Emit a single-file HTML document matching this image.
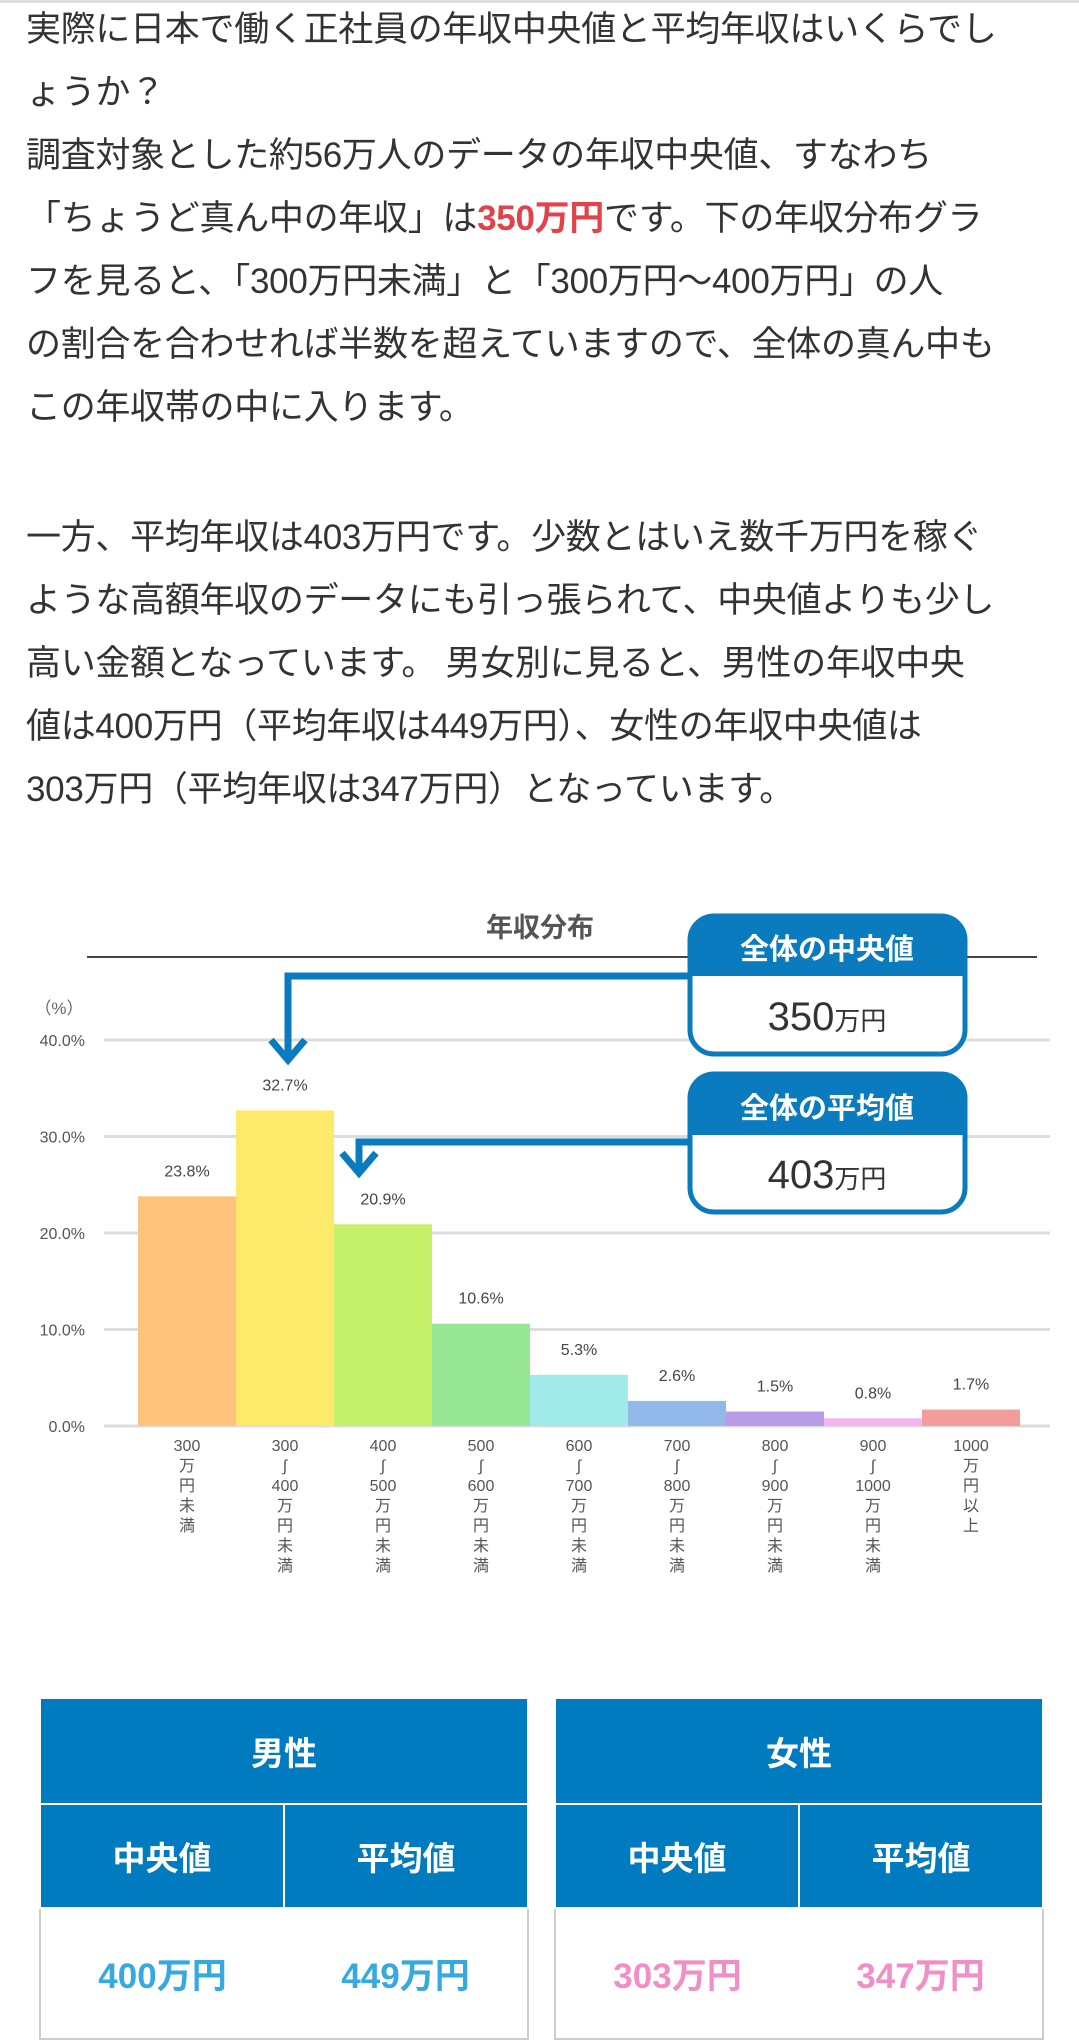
<!DOCTYPE html>
<html><head><meta charset="utf-8">
<style>
body{margin:0;width:1079px;height:2040px;background:#fff;position:relative;overflow:hidden;font-family:"Liberation Sans","Noto Sans CJK JP",sans-serif;color:#333}
.p{position:absolute;left:26px;font-size:35px;line-height:63px;margin:0;white-space:nowrap;letter-spacing:-0.3px}
.red{color:#e2434b;font-weight:bold}
table{position:absolute;border-collapse:collapse;table-layout:fixed}
td,th{text-align:center;font-family:"Liberation Sans","Noto Sans CJK JP",sans-serif}
th{background:#007bbf;color:#fff;font-size:33px;font-weight:bold;border:2px solid #fff}
td{font-size:35px;font-weight:bold;border:2px solid #ccc}
</style></head><body>
<div style="position:absolute;left:0;top:0;width:1079px;height:3px;background:#ddd"></div>
<p class="p" style="top:-2px">実際に日本で働く正社員の年収中央値と平均年収はいくらでし<br>ょうか？<br>調査対象とした約56万人のデータの年収中央値、すなわち<br>「ちょうど真ん中の年収」は<span class="red">350万円</span>です。下の年収分布グラ<br>フを見ると、「300万円未満」と「300万円～400万円」の人<br>の割合を合わせれば半数を超えていますので、全体の真ん中も<br>この年収帯の中に入ります。</p>
<p class="p" style="top:506px">一方、平均年収は403万円です。少数とはいえ数千万円を稼ぐ<br>ような高額年収のデータにも引っ張られて、中央値よりも少し<br>高い金額となっています。 男女別に見ると、男性の年収中央<br>値は400万円（平均年収は449万円）、女性の年収中央値は<br>303万円（平均年収は347万円）となっています。</p>

<svg id="chart" style="position:absolute;left:0;top:880px" width="1079" height="720" font-family="Liberation Sans, Noto Sans CJK JP, sans-serif"></svg>

<table style="left:39px;top:1697px;width:490px;height:343px">
<tr style="height:106px"><th colspan="2">男性</th></tr>
<tr style="height:104px"><th>中央値</th><th>平均値</th></tr>
<tr><td style="color:#35a9e0;border-right:none">400万円</td><td style="color:#35a9e0;border-left:none">449万円</td></tr>
</table>
<table style="left:554px;top:1697px;width:490px;height:343px">
<tr style="height:106px"><th colspan="2">女性</th></tr>
<tr style="height:104px"><th>中央値</th><th>平均値</th></tr>
<tr><td style="color:#f08ec5;border-right:none">303万円</td><td style="color:#f08ec5;border-left:none">347万円</td></tr>
</table>

<script>
const categories=[["300","万","円","未","満"],["300","∫","400","万","円","未","満"],["400","∫","500","万","円","未","満"],["500","∫","600","万","円","未","満"],["600","∫","700","万","円","未","満"],["700","∫","800","万","円","未","満"],["800","∫","900","万","円","未","満"],["900","∫","1000","万","円","未","満"],["1000","万","円","以","上"]];
const values=[23.8,32.7,20.9,10.6,5.3,2.6,1.5,0.8,1.7];
const valueLabels=["23.8%","32.7%","20.9%","10.6%","5.3%","2.6%","1.5%","0.8%","1.7%"];
const yTicks=[0,10,20,30,40];
const yTickLabels=["0.0%","10.0%","20.0%","30.0%","40.0%"];
const colors=["#fec47d","#fde96a","#c6f26b","#97e693","#a0eaea","#93b9ea","#b89ce6","#f3b5f0","#f29c9c"];
const OY=880;
const svg=document.getElementById('chart');
const NS='http://www.w3.org/2000/svg';
function el(t,a,txt){const e=document.createElementNS(NS,t);for(const k in a)e.setAttribute(k,a[k]);if(txt!==undefined)e.textContent=txt;svg.appendChild(e);return e;}
const y0=1426-OY,y40=1040-OY;
function yS(v){return y0+(y40-y0)*v/40;}
const x0=138,bw=98;
function xS(i){return x0+i*bw;}
// title
let t=el('text',{x:540,y:937-OY,'text-anchor':'middle','font-size':27,'font-weight':'bold',fill:'#555'},'年収分布');


let l=el('line',{x1:87,x2:1037,y1:957-OY,y2:957-OY,stroke:'#444','stroke-width':2});


t=el('text',{x:59,y:1014-OY,'text-anchor':'middle','font-size':17,fill:'#666'},'（%）');


yTicks.forEach((v,i)=>{
  const g=el('line',{x1:104,x2:1050,y1:yS(v),y2:yS(v),stroke:'#ddd','stroke-width':3});
  
  
  const tx=el('text',{x:85,y:yS(v)+6,'text-anchor':'end','font-size':16,fill:'#555'},yTickLabels[i]);
  
  
});
values.forEach((v,i)=>{
  const r=el('rect',{x:xS(i),y:yS(v),width:bw,height:y0-yS(v),fill:colors[i]});
  
  
  const tx=el('text',{x:xS(i)+bw/2,y:yS(v)-20,'text-anchor':'middle','font-size':16,fill:'#444'},valueLabels[i]);
  
  
  categories[i].forEach((c,j)=>{
    const ct=el('text',{x:xS(i)+bw/2+(c.length>1?0:0),y:1451-OY+j*20,'text-anchor':'middle','font-size':16,fill:'#555'},c);
    
    
  });
});
// arrows
function arrow(name,y,x,yEnd){
  const p=el('path',{d:`M690 ${y} H${x} V${yEnd-4}`,fill:'none',stroke:'#0a7bbf','stroke-width':7});
  
  
  const h=el('path',{d:`M${x-17} ${yEnd-20} L${x} ${yEnd} L${x+17} ${yEnd-20}`,fill:'none',stroke:'#0a7bbf','stroke-width':7});
  
  
}
arrow('median-arrow',976-OY,288,1060-OY);
arrow('mean-arrow',1142-OY,359,1173-OY);
function callout(name,top,bot,hdr,title,val){
  const b=el('rect',{x:690,y:top-OY,width:275,height:bot-top,rx:24,fill:'#fff',stroke:'#0a7bbf','stroke-width':5});
  
  
  const h=el('path',{d:`M690 ${hdr-OY} V${top-OY+24} Q690 ${top-OY} 714 ${top-OY} H941 Q965 ${top-OY} 965 ${top-OY+24} V${hdr-OY} Z`,fill:'#0a7bbf'});
  
  
  const t1=el('text',{x:827,y:hdr-OY-17,'text-anchor':'middle','font-size':29,'font-weight':'bold',fill:'#fff'},title);
  
  
  const t2=el('text',{x:827,y:bot-OY-24,'text-anchor':'middle','font-size':40,fill:'#333'});
  
  
  const s1=document.createElementNS(NS,'tspan');s1.textContent=val;t2.appendChild(s1);
  const s2=document.createElementNS(NS,'tspan');s2.setAttribute('font-size',26);s2.textContent='万円';t2.appendChild(s2);
}
callout('median-callout',916,1054,976,'全体の中央値','350');
callout('mean-callout',1074,1212,1135,'全体の平均値','403');
</script>
</body></html>
